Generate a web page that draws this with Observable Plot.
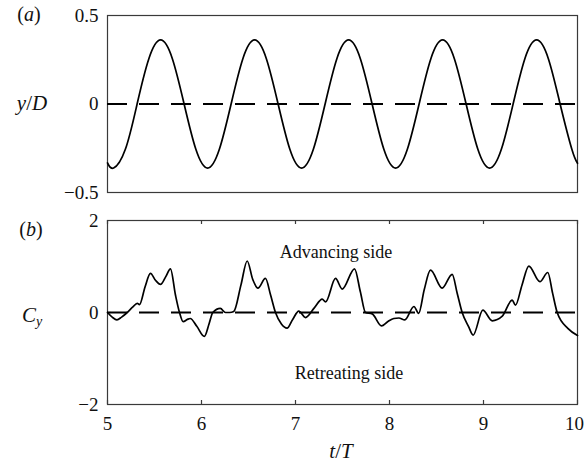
<!DOCTYPE html>
<html>
<head>
<meta charset="utf-8">
<script src="https://cdn.jsdelivr.net/npm/d3@7"></script>
<script src="https://cdn.jsdelivr.net/npm/@observablehq/plot@0.6"></script>
<style>
  html, body { margin: 0; padding: 0; background: #fff; }
  #wrap { position: relative; width: 584px; height: 466px; overflow: hidden; font-family: "Liberation Serif", serif; color: #111; }
  #wrap svg { position: absolute; left: 0; overflow: visible; }
  .lbl { position: absolute; transform: translate(-50%, -50%); white-space: nowrap; font-family: "Liberation Serif", serif; }
</style>
</head>
<body>
<div id="wrap"></div>
<script>
// Panel (a): cylinder displacement y/D versus t/T
const tA = [5.000, 5.065, 5.190, 5.315, 5.440, 5.565, 5.690, 5.815, 5.940,
  6.065, 6.190, 6.315, 6.440, 6.565, 6.690, 6.815, 6.940,
  7.065, 7.190, 7.315, 7.440, 7.565, 7.690, 7.815, 7.940,
  8.065, 8.190, 8.315, 8.440, 8.565, 8.690, 8.815, 8.940,
  9.065, 9.190, 9.315, 9.440, 9.565, 9.690, 9.815, 9.940, 10.000];
const yA = [-0.333, -0.362, -0.256, 0.000, 0.256, 0.362, 0.256, 0.000, -0.256,
  -0.362, -0.256, 0.000, 0.256, 0.362, 0.256, 0.000, -0.256,
  -0.362, -0.256, 0.000, 0.256, 0.362, 0.256, 0.000, -0.256,
  -0.362, -0.256, 0.000, 0.256, 0.362, 0.256, 0.000, -0.256,
  -0.362, -0.256, 0.000, 0.256, 0.362, 0.256, 0.000, -0.256, -0.335];

// Panel (b): lift coefficient C_y versus t/T
const tB = [5.00, 5.05, 5.10, 5.15, 5.21, 5.27, 5.316, 5.34, 5.40, 5.457, 5.51, 5.564, 5.62, 5.67, 5.723, 5.766,
  5.805, 5.85, 5.88, 5.95, 6.03, 6.08, 6.12, 6.20, 6.255, 6.30, 6.343, 6.42, 6.486, 6.545, 6.60, 6.68, 6.735, 6.787,
  6.85, 6.91, 6.97, 7.035, 7.106, 7.20, 7.284, 7.32, 7.426, 7.497, 7.628, 7.69, 7.745, 7.816, 7.915, 7.98, 8.046,
  8.10, 8.163, 8.26, 8.31, 8.37, 8.436, 8.56, 8.667, 8.72, 8.773, 8.84, 8.89, 8.993, 9.093, 9.20, 9.305, 9.34,
  9.41, 9.482, 9.60, 9.684, 9.735, 9.784, 9.90, 10.00];
const cB = [0.00, -0.10, -0.16, -0.10, 0.00, 0.12, 0.20, 0.17, 0.56, 0.85, 0.70, 0.61, 0.78, 0.95, 0.38, 0.00,
  -0.20, -0.15, -0.13, -0.30, -0.52, -0.25, 0.00, 0.09, 0.00, 0.00, 0.02, 0.60, 1.12, 0.72, 0.53, 0.74, 0.38, 0.00,
  -0.25, -0.34, -0.15, 0.03, -0.11, 0.10, 0.29, 0.23, 0.74, 0.51, 0.95, 0.45, 0.00, -0.03, -0.29, -0.20, -0.13,
  -0.12, -0.16, 0.13, -0.02, 0.50, 0.92, 0.53, 0.83, 0.42, 0.00, -0.30, -0.49, 0.05, -0.18, -0.08, 0.27, 0.16,
  0.60, 1.01, 0.67, 0.87, 0.42, 0.00, -0.35, -0.50];

const xTicks = [5, 6, 7, 8, 9, 10];
const yTicksA = [-0.5, 0, 0.5];
const yTicksB = [-2, 0, 2];
const notes = [
  {t: 7.43, v: 1.31, text: "Advancing side"},
  {t: 7.57, v: -1.31, text: "Retreating side"}
];

const dataA = tA.map((t, i) => ({t, v: yA[i]}));
const dataB = tB.map((t, i) => ({t, v: cB[i]}));
const fmt = d => (d < 0 ? "\u2212" + Math.abs(d) : String(d));
const style = {fontFamily: "Liberation Serif, serif", fontSize: "19px", color: "#111", background: "transparent", overflow: "visible"};
const frameColor = "#3a3a3a";

const W = 584, mL = 107, mR = 7;
const lastTick = xTicks[xTicks.length - 1];

const plotA = Plot.plot({
  width: W, height: 200,
  marginTop: 15, marginBottom: 8, marginLeft: mL, marginRight: mR,
  style,
  x: {domain: [5, 10]},
  y: {domain: [-0.5, 0.5]},
  marks: [
    Plot.frame({stroke: frameColor, strokeWidth: 1.2}),
    Plot.axisX({ticks: [], label: null, tickSize: 0}),
    Plot.axisY(yTicksA, {tickSize: 0, tickPadding: 9, tickFormat: fmt, label: null, fontSize: 19}),
    Plot.ruleY([0], {stroke: "#000", strokeWidth: 1.8, strokeDasharray: "20,12"}),
    Plot.line(dataA, {x: "t", y: "v", curve: "natural", stroke: "#000", strokeWidth: 1.7})
  ]
});

const plotB = Plot.plot({
  width: W, height: 266,
  marginTop: 20, marginBottom: 62, marginLeft: mL, marginRight: mR,
  style,
  x: {domain: [5, 10]},
  y: {domain: [-2, 2]},
  marks: [
    Plot.frame({stroke: frameColor, strokeWidth: 1.2}),
    Plot.axisX(xTicks.slice(0, -1), {tickSize: 0, tickPadding: 12, label: null, fontSize: 19}),
    Plot.axisX([lastTick], {tickSize: 0, tickPadding: 12, label: null, fontSize: 19, dx: -3}),
    Plot.axisY(yTicksB, {tickSize: 0, tickPadding: 9, tickFormat: fmt, label: null, fontSize: 19}),
    Plot.tickX(xTicks, {x: d => d, insetBottom: 180, stroke: frameColor, strokeWidth: 1.2}),
    Plot.tickX(xTicks, {x: d => d, insetTop: 180, stroke: frameColor, strokeWidth: 1.2}),
    Plot.tickY([0], {y: d => d, insetRight: 466, stroke: frameColor, strokeWidth: 1.2}),
    Plot.ruleY([0], {stroke: "#000", strokeWidth: 1.8, strokeDasharray: "20,12"}),
    Plot.line(dataB, {x: "t", y: "v", curve: "monotone-x", stroke: "#000", strokeWidth: 1.7}),
    Plot.text(notes, {x: "t", y: "v", text: "text", fontSize: 18, fill: "#111"})
  ]
});

const wrap = document.getElementById("wrap");
plotA.style.top = "0px";
plotB.style.top = "200px";
wrap.appendChild(plotA);
wrap.appendChild(plotB);

const labels = [
  {x: 29, y: 14, html: "(<i>a</i>)", size: 20},
  {x: 32, y: 103, html: "<i>y</i>/<i>D</i>", size: 21},
  {x: 31, y: 229, html: "(<i>b</i>)", size: 20},
  {x: 32, y: 316, html: "<i>C</i><sub style='font-size:14px;vertical-align:-4px'><i>y</i></sub>", size: 21},
  {x: 341, y: 451, html: "<i>t</i>/<i>T</i>", size: 21}
];
for (const l of labels) {
  const d = document.createElement("div");
  d.className = "lbl";
  d.style.left = l.x + "px";
  d.style.top = l.y + "px";
  d.style.fontSize = l.size + "px";
  d.innerHTML = l.html;
  wrap.appendChild(d);
}
</script>
</body>
</html>
